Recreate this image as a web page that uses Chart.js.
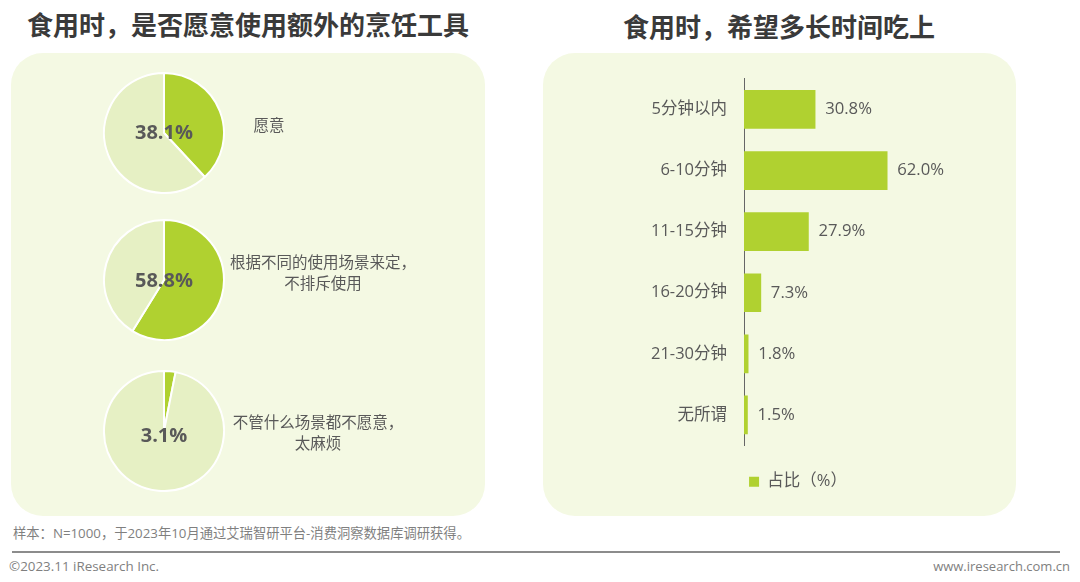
<!DOCTYPE html>
<html lang="zh">
<head>
<meta charset="utf-8">
<title>食用时</title>
<script src="https://cdn.jsdelivr.net/npm/chart.js@4"></script>
<style>
  html, body { margin: 0; padding: 0; background: #fff; }
  body { position: relative; width: 1080px; height: 582px; overflow: hidden;
         font-family: "Open Sans", "Noto Sans CJK SC", sans-serif; color: #595959; }
  .abs { position: absolute; white-space: nowrap; }
  .panel { position: absolute; top: 53px; height: 463px; width: 474px; background: #f4f9e3; border-radius: 32px; }
  .title { position: absolute; white-space: nowrap; transform: translateX(-50%); font-size: 26px; line-height: 30px;
           font-weight: 700; color: #3a3a3a; font-family: "Noto Sans CJK SC", sans-serif; }
  .pieLabel { position: absolute; width: 200px; text-align: center; font-size: 15.5px; line-height: 21px;
              font-family: "Noto Sans CJK SC", sans-serif; color: #595959; }
  canvas { position: absolute; }
</style>
</head>
<body>
<div class="panel" style="left:11px"></div>
<div class="panel" style="left:543px;width:473px"></div>
<div class="title" style="left:248px;top:9px">食用时，是否愿意使用额外的烹饪工具</div>
<div class="title" style="left:779px;top:11px">食用时，希望多长时间吃上</div>

<canvas id="pie0" width="122" height="122" style="left:103px;top:72px"></canvas>
<canvas id="pie1" width="122" height="122" style="left:103px;top:219px"></canvas>
<canvas id="pie2" width="122" height="122" style="left:103px;top:370px"></canvas>
<div class="pieLabel" style="left:169px;top:114px">愿意</div>
<div class="pieLabel" style="left:223px;top:251px">根据不同的使用场景来定，<br>不排斥使用</div>
<div class="pieLabel" style="left:218px;top:411px">不管什么场景都不愿意，<br>太麻烦</div>

<canvas id="barChart" width="510" height="448" style="left:543px;top:52px"></canvas>

<div class="abs" style="left:13px;top:525px;font-size:13.3px;line-height:16px;color:#7f7f7f">样本：N=1000，于2023年10月通过艾瑞智研平台-消费洞察数据库调研获得。</div>
<div class="abs" style="left:12px;top:551px;width:1048px;height:2px;background:#8c8c8c"></div>
<div class="abs" style="left:9px;top:558px;font-size:13.4px;line-height:16px;color:#7f7f7f">©2023.11 iResearch Inc.</div>
<div class="abs" style="right:10px;top:558px;font-size:13px;line-height:16px;color:#7f7f7f">www.iresearch.com.cn</div>

<script>
const pieShares = [38.1, 58.8, 3.1];
const pieRest = [61.9, 41.2, 96.9];

const barLabels = ["5分钟以内", "6-10分钟", "11-15分钟", "16-20分钟", "21-30分钟", "无所谓"];
const barValues = [30.8, 62.0, 27.9, 7.3, 1.8, 1.5];
const seriesName = "占比（%）";

const GREEN = "#b0d130";
const PALE = "#e6f0c4";
const TEXT = "#595959";
const FONT = '"Open Sans", "Noto Sans CJK SC", sans-serif';

Chart.defaults.font.family = FONT;
Chart.defaults.color = TEXT;

// Percent written in the middle of a pie
const centerText = {
  id: "centerText",
  afterDraw(chart) {
    const c = chart.ctx;
    const arc = chart.getDatasetMeta(0).data[0];
    c.save();
    c.font = "700 20px " + FONT;
    c.fillStyle = TEXT;
    c.textAlign = "center";
    c.textBaseline = "middle";
    c.fillText(chart.data.datasets[0].data[0].toFixed(1) + "%", arc.x, arc.y + chart.options.plugins.centerText.dy);
    c.restore();
  }
};

// Value after the end of each bar
const barValueText = {
  id: "barValueText",
  afterDatasetsDraw(chart) {
    const c = chart.ctx;
    c.save();
    c.font = "16.7px " + FONT;
    c.fillStyle = TEXT;
    c.textBaseline = "middle";
    chart.getDatasetMeta(0).data.forEach((bar, i) => {
      c.fillText(barValues[i].toFixed(1) + "%", bar.x + 10, bar.y);
    });
    c.restore();
  }
};

const pieOffsets = [0, 1, 5];
pieShares.forEach((share, i) => {
  new Chart(document.getElementById("pie" + i), {
    type: "pie",
    data: {
      labels: ["是", "其他"],
      datasets: [{
        data: [share, pieRest[i]],
        backgroundColor: [GREEN, PALE],
        borderColor: "#ffffff",
        borderWidth: 2
      }]
    },
    options: {
      responsive: false,
      animation: false,
      plugins: {
        legend: { display: false },
        tooltip: { enabled: false },
        centerText: { dy: pieOffsets[i] }
      }
    },
    plugins: [centerText]
  });
});

new Chart(document.getElementById("barChart"), {
  type: "bar",
  data: {
    labels: barLabels,
    datasets: [{
      label: seriesName,
      data: barValues,
      backgroundColor: GREEN,
      barThickness: 38
    }]
  },
  options: {
    indexAxis: "y",
    responsive: false,
    animation: false,
    scales: {
      x: { display: false, min: 0, max: 133.8 },
      y: {
        afterFit(scale) { scale.width = 201; },
        grid: { display: false, drawTicks: false },
        border: { display: true, color: "#666666", width: 1 },
        ticks: { padding: 17, color: TEXT, font: { size: 16.5 } }
      }
    },
    plugins: {
      tooltip: { enabled: false },
      legend: {
        position: "bottom",
        labels: { boxWidth: 10, boxHeight: 10, padding: 28, color: TEXT, font: { size: 16.5 } }
      }
    }
  },
  plugins: [barValueText]
});
</script>
</body>
</html>
